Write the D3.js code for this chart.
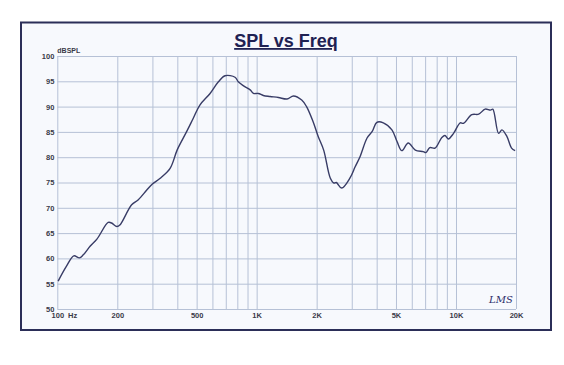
<!DOCTYPE html>
<html>
<head>
<meta charset="utf-8">
<script src="https://cdn.jsdelivr.net/npm/d3@7"></script>
<style>
  body { margin: 0; background: #ffffff; }
  svg { display: block; font-family: "Liberation Sans", Arial, sans-serif; }
  .grid line { stroke: #b6c1d6; stroke-width: 1; }
  .grid path { display: none; }
  .lbl text { font-size: 7.5px; font-weight: bold; fill: #3a3a48; }
</style>
</head>
<body>
<svg id="chart" width="564" height="365"></svg>
<script>
// response curve
var freqs = [101, 111, 121, 129, 135, 146, 158, 180, 187, 199, 206, 236, 255, 281, 300, 327, 368, 400,
  446, 481, 519, 584, 643, 694, 779, 809, 860, 928, 964, 1020, 1080, 1167, 1286, 1420, 1530, 1683,
  1780, 1920, 2036, 2169, 2340, 2440, 2510, 2670, 2940, 3120, 3300, 3580, 3800, 4010, 4320, 4770,
  5060, 5350, 5760, 6250, 6850, 7060, 7390, 7850, 8490, 8800, 9150, 9720, 10500, 10900, 12000,
  13000, 14000, 14900, 15300, 16360, 17000, 18000, 19000, 19800];
var spl = [55.5, 58.4, 60.5, 60.1, 60.7, 62.4, 63.8, 67.1, 67.0, 66.3, 66.6, 70.6, 71.6, 73.5, 74.7,
  75.8, 77.8, 81.5, 85.1, 87.7, 90.3, 92.6, 94.9, 96.1, 95.8, 94.9, 94.1, 93.3, 92.6, 92.6, 92.2,
  92.0, 91.8, 91.5, 92.1, 91.3, 90.0, 87.0, 84.1, 81.4, 75.9, 74.9, 75.0, 73.9, 75.9, 78.1, 80.1,
  83.8, 85.1, 86.9, 86.8, 85.4, 83.1, 81.3, 82.8, 81.4, 81.1, 80.9, 81.9, 81.8, 83.9, 84.3, 83.6,
  84.7, 86.8, 86.7, 88.4, 88.5, 89.5, 89.3, 89.5, 84.7, 85.4, 84.1, 81.8, 81.3];

// grid lines and labels
var gridFreqs = [100, 200, 300, 400, 500, 600, 700, 800, 900, 1000, 2000, 3000, 4000, 5000, 6000,
  7000, 8000, 9000, 10000, 20000];
var freqLabels = { 100: "100", 200: "200", 500: "500", 1000: "1K", 2000: "2K", 5000: "5K", 10000: "10K", 20000: "20K" };
var dbTicks = [50, 55, 60, 65, 70, 75, 80, 85, 90, 95, 100];

var svg = d3.select("#chart");
var plotL = 57.3, plotR = 516, plotT = 56, plotB = 309;

var x = d3.scaleLog().domain([100, 20000]).range([plotL, plotR]);
var y = d3.scaleLinear().domain([50, 100]).range([plotB, plotT]);

// page + frame
svg.append("rect").attr("x", 21).attr("y", 22.5).attr("width", 530).attr("height", 307.5)
  .attr("fill", "#f7f9fd").attr("stroke", "#2b2e58").attr("stroke-width", 2);

// title
svg.append("text")
  .attr("x", 286).attr("y", 47)
  .attr("text-anchor", "middle")
  .attr("font-size", 18).attr("font-weight", "bold")
  .attr("fill", "#1f2253")
  .attr("text-decoration", "underline")
  .text("SPL vs Freq");

// grids
svg.append("g").attr("class", "grid")
  .attr("transform", "translate(0," + plotB + ")")
  .call(d3.axisBottom(x).tickValues(gridFreqs).tickSize(-(plotB - plotT)).tickFormat(""));
svg.append("g").attr("class", "grid")
  .attr("transform", "translate(" + plotL + ",0)")
  .call(d3.axisLeft(y).tickValues(dbTicks).tickSize(-(plotR - plotL)).tickFormat(""));

// y labels
var yl = svg.append("g").attr("class", "lbl")
  .attr("transform", "translate(" + plotL + ",0)")
  .call(d3.axisLeft(y).tickValues(dbTicks).tickSize(0).tickPadding(3).tickFormat(d3.format("d")));
yl.select(".domain").remove();

// x labels
var xl = svg.append("g").attr("class", "lbl")
  .attr("transform", "translate(0," + plotB + ")")
  .call(d3.axisBottom(x).tickValues(Object.keys(freqLabels).map(Number)).tickSize(0).tickPadding(4)
    .tickFormat(function (d) { return freqLabels[d]; }));
xl.select(".domain").remove();

svg.append("text").attr("x", 68).attr("y", plotB + 4).attr("dy", "0.71em")
  .attr("font-size", 7.5).attr("font-weight", "bold").attr("fill", "#3a3a48").text("Hz");

svg.append("text").attr("x", plotL).attr("y", 53)
  .attr("font-size", 7).attr("font-weight", "bold").attr("fill", "#3a3a48").text("dBSPL");

// the response curve
var pts = freqs.map(function (f, i) { return [f, spl[i]]; });
var line = d3.line()
  .x(function (d) { return x(d[0]); })
  .y(function (d) { return y(d[1]); })
  .curve(d3.curveCatmullRom.alpha(0.5));

svg.append("path").datum(pts)
  .attr("d", line)
  .attr("fill", "none")
  .attr("stroke", "#383c66")
  .attr("stroke-width", 1.4);

// handwritten initials
svg.append("text").attr("x", 489).attr("y", 303)
  .attr("font-family", "DejaVu Serif, serif").attr("font-style", "italic")
  .attr("font-size", 10).attr("fill", "#2b2e6a").text("LMS");
</script>
</body>
</html>
